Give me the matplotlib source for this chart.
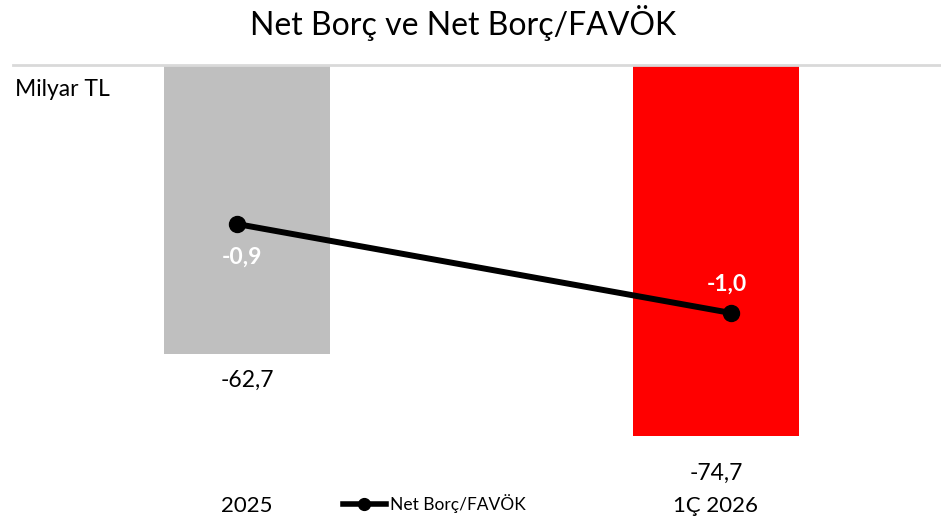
import numpy as np
import matplotlib
matplotlib.use('Agg')
import matplotlib.pyplot as plt
from matplotlib.lines import Line2D

# ------------------------------------------------------------------
# Data
# ------------------------------------------------------------------
categories = ['2025', '1Ç 2026']
net_debt   = [-62.7, -74.7]          # Milyar TL (bars)
debt_ratio = [-0.9, -1.0]            # Net Borç/FAVÖK (line)
bar_colors = ['#bfbfbf', '#ff0000']

plt.rcParams['font.family'] = ['Lato', 'DejaVu Sans']

def fmt(v):
    return f'{v:.1f}'.replace('.', ',')

W, H = 941, 523
fig = plt.figure(figsize=(W / 100, H / 100), dpi=100)

# plot area in pixels
left_px, right_px, top_px, bot_px = 12.5, 941, 65, 472
rect = [left_px / W, 1 - bot_px / H, (right_px - left_px) / W, (bot_px - top_px) / H]

ax = fig.add_axes(rect)
x = np.arange(len(categories))
ax.bar(x, net_debt, width=0.354, color=bar_colors, zorder=2)
ax.set_xlim(-0.5, 1.48)
ax.set_ylim(-80, -20.4)
ax.axhline(-20.4, color='#d9d9d9', lw=2, zorder=3, clip_on=False)
for s in ax.spines.values():
    s.set_visible(False)
ax.set_xticks([])
ax.set_yticks([])

# bar value labels (below bars)
bar_offsets = [-19, -27]
for xi, v, off in zip(x, net_debt, bar_offsets):
    ax.annotate(fmt(v), (xi, v), xytext=(0, off), textcoords='offset points',
                ha='center', va='center', fontsize=16.5, color='#000000')

# category labels
for xi, c in zip(x, categories):
    ax.text(xi, -0.083, c, transform=ax.get_xaxis_transform(),
            ha='center', va='center', fontsize=16, color='#000000')

# secondary axis for the ratio line (own x scale, as in the source)
ax2 = fig.add_axes(rect, facecolor='none')
ax2.plot(x, debt_ratio, color='black', lw=4.3, marker='o', markersize=11.5,
         solid_capstyle='round', zorder=4)
ax2.set_xlim(-0.4545, 1.425)
ax2.set_ylim(-1.1787, -0.7213)
ax2.axis('off')

line_offsets = [(3.5, -24), (-3, 21)]
for xi, v, (dx, dy) in zip(x, debt_ratio, line_offsets):
    ax2.annotate(fmt(v), (xi, v), xytext=(dx, dy), textcoords='offset points',
                 ha='center', va='center', fontsize=16.5, fontweight='bold',
                 color='white')

# legend
handle = Line2D([], [], color='black', lw=4, marker='o', markersize=8.5)
fig.legend([handle], ['Net Borç/FAVÖK'], loc='center', bbox_to_anchor=(434 / W, 1 - 504 / H),
           frameon=False, fontsize=12.5, handlelength=2.5, handletextpad=0.2)

fig.text(15 / W, 1 - 90 / H, 'Milyar TL', ha='left', va='center', fontsize=16.5)
fig.text(463 / W, 1 - 23 / H, 'Net Borç ve Net Borç/FAVÖK', ha='center', va='center',
         fontsize=23, color='#000000')

plt.savefig('out.png', dpi=100)
plt.close()
